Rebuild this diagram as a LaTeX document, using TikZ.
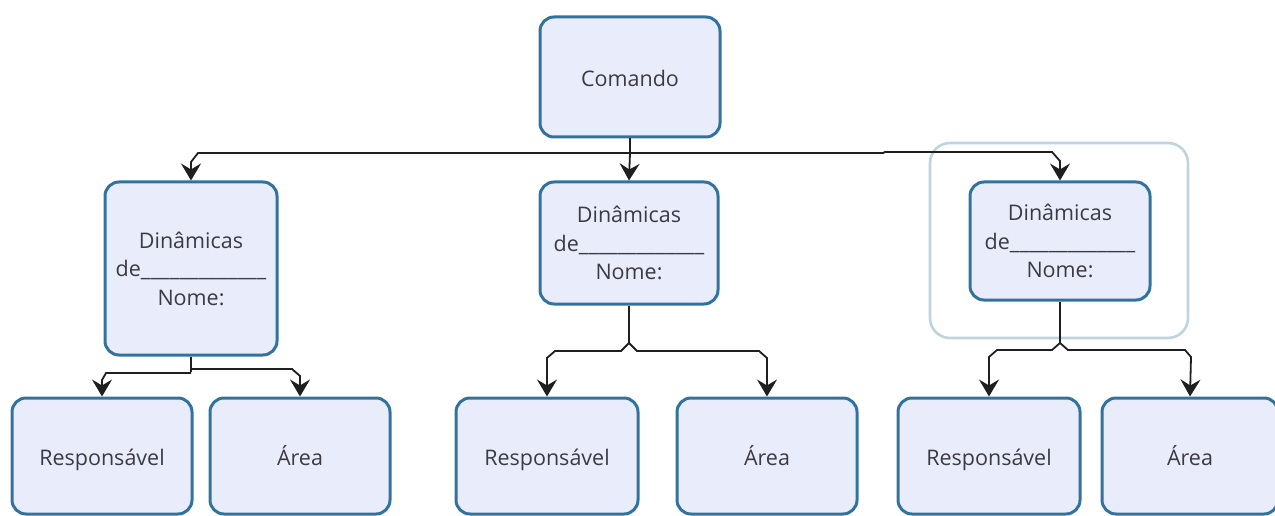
\documentclass[tikz,border=0pt]{standalone}
\usepackage{fontspec}
\setmainfont{Open Sans}
\usetikzlibrary{arrows.meta}
\definecolor{boxborder}{RGB}{50,115,158}
\definecolor{boxfill}{RGB}{233,236,250}
\definecolor{txt}{RGB}{60,58,68}
\definecolor{hilite}{RGB}{190,212,222}
\tikzset{
  box/.style={draw=boxborder, fill=boxfill, line width=3pt, rounded corners=14pt,
    align=center, text=txt, inner sep=0pt, font=\fontsize{21.5}{28.5}\selectfont},
  onel/.style={text height=24pt, text depth=5pt},
  conn/.style={draw=black!88, line width=1.8pt},
  arr/.style={conn, -{Stealth[length=17pt,width=20pt,inset=6pt]}},
  hl/.style={draw=hilite, line width=2.6pt, rounded corners=20pt}
}
\begin{document}
\begin{tikzpicture}[x=1pt,y=-1pt]
\useasboundingbox (0,0) rectangle (1275,516);
% highlight frame
\draw[hl] (930,143) rectangle (1188,338);
% boxes
\node[box, onel, minimum width=180pt, minimum height=120pt] (cmd) at (630,77) {Comando};
\node[box, minimum width=172pt, minimum height=173pt] (d1) at (191,268.5) {Dinâmicas\\de\_\_\_\_\_\_\_\_\_\_\_\_\_\\Nome:};
\node[box, minimum width=178pt, minimum height=122pt] (d2) at (629,243) {Dinâmicas\\de\_\_\_\_\_\_\_\_\_\_\_\_\_\\Nome:};
\node[box, minimum width=180pt, minimum height=118pt] (d3) at (1060,241) {Dinâmicas\\de\_\_\_\_\_\_\_\_\_\_\_\_\_\\Nome:};
\node[box, onel, minimum width=180pt, minimum height=116pt] (r1) at (102,456) {Responsável};
\node[box, onel, minimum width=180pt, minimum height=116pt] (a1) at (300,456) {Área};
\node[box, onel, minimum width=182pt, minimum height=116pt] (r2) at (547,456) {Responsável};
\node[box, onel, minimum width=180pt, minimum height=116pt] (a2) at (767,456) {Área};
\node[box, onel, minimum width=182pt, minimum height=116pt] (r3) at (989,456) {Responsável};
\node[box, onel, minimum width=176pt, minimum height=116pt] (a3) at (1190,456) {Área};
% top connectors
\coordinate (jt) at (cmd.south |- 0,153);
\draw[conn] (cmd.south) -- (jt);
\draw[arr] (jt) -- (d2.north);
\draw[arr] (jt) -- (198,153) -- (191,162) -- (d1.north);
\draw[arr] (jt) -- (883,153) -- (885,152) -- (1052,152) -- (1060,161) -- (d3.north);
% left group
\draw[conn] (d1.south) -- (191,372);
\draw[arr] (191,373) -- (106,373) -- (102,380) -- (r1.north);
\draw[arr] (191,369) -- (292,369) -- (300,376) -- (a1.north);
% middle group
\coordinate (j2) at (d2.south |- 0,343);
\draw[conn] (d2.south) -- (j2);
\draw[arr] (j2) -- (621,351) -- (555,351) -- (547,358) -- (r2.north);
\draw[arr] (j2) -- (637,351) -- (759,351) -- (767,358) -- (a2.north);
% right group
\coordinate (j3) at (d3.south |- 0,343);
\draw[conn] (d3.south) -- (j3);
\draw[arr] (j3) -- (1052,350) -- (997,350) -- (989,357) -- (r3.north);
\draw[arr] (j3) -- (1068,350) -- (1185,350) -- (1191,357) -- (a3.north);
\end{tikzpicture}
\end{document}
